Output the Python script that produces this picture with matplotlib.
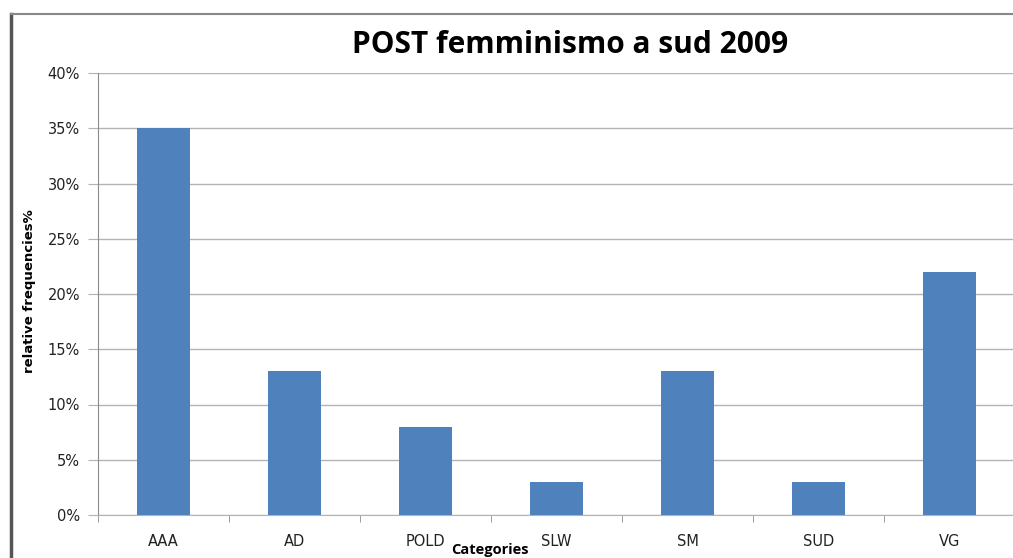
import matplotlib.pyplot as plt
from matplotlib.lines import Line2D
from matplotlib.ticker import FuncFormatter, FixedLocator
import numpy as np

categories = ['AAA', 'AD', 'POLD', 'SLW', 'SM', 'SUD', 'VG']
values = [0.35, 0.13, 0.08, 0.03, 0.13, 0.03, 0.22]
yticks = [0, 0.05, 0.10, 0.15, 0.20, 0.25, 0.30, 0.35, 0.40]

W, H = 1013, 558
fig = plt.figure(figsize=(W / 100, H / 100), dpi=100)
fig.patch.set_facecolor('white')

# plot area: x 98..1015, y 73..515 (pixels)
ax = fig.add_axes([98 / W, 1 - 515 / H, (1015 - 98) / W, (515 - 73) / H])

x = np.arange(len(categories))
ax.bar(x, values, width=0.4, color='#4f81bd', zorder=3)

ax.set_xlim(-0.5, len(categories) - 0.5)
ax.set_ylim(0, 0.40)
ax.set_yticks(yticks)
ax.yaxis.set_major_formatter(FuncFormatter(lambda v, p: f"{v * 100:.0f}%"))
ax.grid(axis='y', color='#b3b3b3', linewidth=1, zorder=0)

ax.set_xticks(x)
ax.set_xticklabels(categories)
ax.xaxis.set_minor_locator(FixedLocator(np.arange(-0.5, len(categories), 1.0)))
ax.tick_params(axis='x', which='major', length=0, pad=14, labelsize=10.5, labelcolor='#222222')
ax.tick_params(axis='x', which='minor', length=5, color='#8c8c8c', direction='out')
ax.tick_params(axis='y', length=7, color='#b3b3b3', direction='out', pad=6,
               labelsize=10.5, labelcolor='#222222')

for s in ['top', 'right']:
    ax.spines[s].set_visible(False)
ax.spines['left'].set_color('#8c8c8c')
ax.spines['bottom'].set_color('#b3b3b3')

fig.text(570 / W, 1 - 45 / H, 'POST femminismo a sud 2009', ha='center', va='center',
         fontsize=21.5, fontweight='bold', family=['Open Sans', 'DejaVu Sans'])
fig.text(30 / W, 1 - 291 / H, 'relative frequencies%', rotation=90, ha='center', va='center',
         fontsize=9.5, fontweight='bold', family='DejaVu Sans')
fig.text(490 / W, 1 - 557 / H, 'Categories', ha='center', va='bottom',
         fontsize=10.5, fontweight='bold', family=['Open Sans', 'DejaVu Sans'])

# chart frame border
fig.add_artist(Line2D([11 / W, 11 / W], [0, 1 - 14 / H], color='#555555', linewidth=2.5,
                      transform=fig.transFigure))
fig.add_artist(Line2D([11 / W, 1], [1 - 14 / H, 1 - 14 / H], color='#888888', linewidth=1.5,
                      transform=fig.transFigure))

fig.savefig('out.png', dpi=100)
